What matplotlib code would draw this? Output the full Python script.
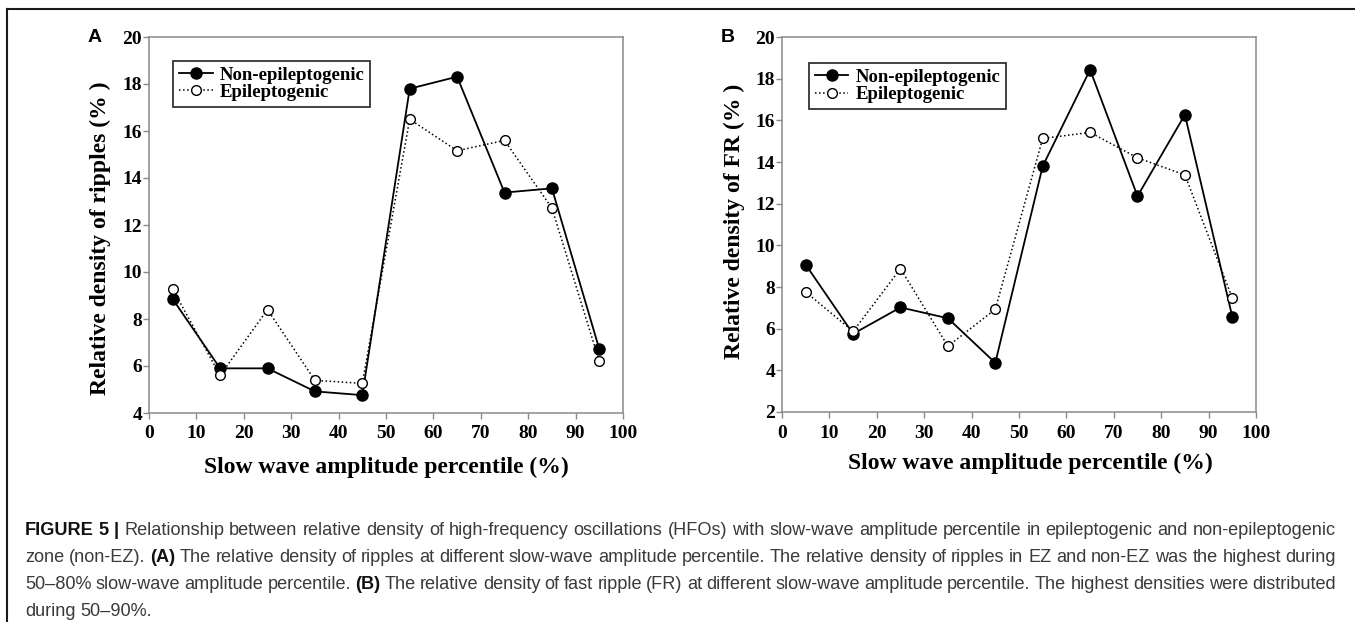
import matplotlib
matplotlib.use("Agg")
import matplotlib.pyplot as plt
from matplotlib.lines import Line2D

# ---------------- data ----------------
x_pct = [5, 15, 25, 35, 45, 55, 65, 75, 85, 95]
x_ticks = [0, 10, 20, 30, 40, 50, 60, 70, 80, 90, 100]

ripple_non_ez = [8.85, 5.9, 5.9, 4.92, 4.76, 17.8, 18.31, 13.38, 13.56, 6.72]
ripple_ez = [9.27, 5.6, 8.4, 5.39, 5.26, 16.5, 15.16, 15.6, 12.72, 6.2]

fr_non_ez = [9.07, 5.75, 7.02, 6.5, 4.36, 13.8, 18.43, 12.36, 16.27, 6.57]
fr_ez = [7.76, 5.87, 8.88, 5.16, 6.93, 15.13, 15.42, 14.2, 13.38, 7.47]

ripple_yticks = [4, 6, 8, 10, 12, 14, 16, 18, 20]
fr_yticks = [2, 4, 6, 8, 10, 12, 14, 16, 18, 20]

series_names = ["Non-epileptogenic", "Epileptogenic"]
xlabel_text = "Slow wave amplitude percentile (%)"
ylabel_a = "Relative density of ripples (% )"
ylabel_b = "Relative density of FR (% )"

caption_lines = [
    [("FIGURE 5 |", True), ("Relationship between relative density of high-frequency oscillations (HFOs) with slow-wave amplitude percentile in epileptogenic and non-epileptogenic", False)],
    [("zone (non-EZ).", False), ("(A)", True), ("The relative density of ripples at different slow-wave amplitude percentile. The relative density of ripples in EZ and non-EZ was the highest during", False)],
    [("50\u201380% slow-wave amplitude percentile.", False), ("(B)", True), ("The relative density of fast ripple (FR) at different slow-wave amplitude percentile. The highest densities were distributed", False)],
    [("during 50\u201390%.", False)],
]

# ---------------- figure ----------------
W, H = 1355, 622
fig = plt.figure(figsize=(W / 100, H / 100), dpi=100)
SERIF = ["Liberation Serif", "DejaVu Serif"]
SANS = ["Liberation Sans", "DejaVu Sans"]
SPINE = "#8a8a8a"


def px_rect(l, r, b, t):
    return [l / W, 1 - b / H, (r - l) / W, (b - t) / H]


def panel(rect, non_ez, ez, yticks, ylab, ylab_xy, xlab_xy, leg_xy, letter, letter_x):
    ax = fig.add_axes(rect)
    ax.plot(x_pct, non_ez, "-", color="black", lw=1.3, marker="o", ms=8,
            mfc="black", mec="black", label=series_names[0], zorder=3)
    ax.plot(x_pct, ez, ":", color="black", lw=1.1, marker="o", ms=7,
            mfc="white", mec="black", mew=1.0, label=series_names[1], zorder=4)
    ax.set_xlim(0, 100)
    ax.set_ylim(yticks[0], yticks[-1])
    ax.set_xticks(x_ticks)
    ax.set_yticks(yticks)
    for s in ax.spines.values():
        s.set_color(SPINE)
        s.set_linewidth(1.1)
    ax.tick_params(axis="both", direction="out", length=4, width=1.0, color=SPINE,
                   labelsize=14, labelcolor="black")
    ax.tick_params(axis="y", pad=1)
    ax.tick_params(axis="x", pad=5)
    for lab in ax.get_xticklabels() + ax.get_yticklabels():
        lab.set_family(SERIF)
        lab.set_fontweight("bold")
    ax.set_xlabel(xlabel_text, family=SERIF, fontweight="bold", fontsize=17)
    ax.xaxis.set_label_coords(*xlab_xy)
    ax.xaxis.label.set_va("center")
    ax.set_ylabel(ylab, family=SERIF, fontweight="bold", fontsize=17)
    ax.yaxis.set_label_coords(*ylab_xy)
    ax.yaxis.label.set_va("center")
    leg = ax.legend(loc="upper left", bbox_to_anchor=leg_xy, borderaxespad=0,
                    frameon=True, fancybox=False, handlelength=1.8, handletextpad=0.4,
                    borderpad=0.3, labelspacing=0.0,
                    prop={"family": SERIF, "weight": "bold", "size": 13.5})
    leg.get_frame().set_edgecolor("black")
    leg.get_frame().set_linewidth(1.3)
    fig.text(letter_x / W, 1 - 37 / H, letter, family=SANS, fontweight="bold",
             fontsize=14, ha="center", va="center")
    return ax


panel(px_rect(149, 623, 413, 37), ripple_non_ez, ripple_ez, ripple_yticks, ylabel_a,
      (-0.103, 0.465), (0.5, -0.146), (0.051, 0.936), "A", 95)
panel(px_rect(782, 1256, 412, 37), fr_non_ez, fr_ez, fr_yticks, ylabel_b,
      (-0.101, 0.509), (0.525, -0.136), (0.057, 0.930), "B", 728)

# frame lines of the figure panel
fig.add_artist(Line2D([7 / W, 1.0], [1 - 9 / H, 1 - 9 / H], color="#1a1a1a", lw=1.5,
                      transform=fig.transFigure))
fig.add_artist(Line2D([7 / W, 7 / W], [0.0, 1 - 9 / H], color="#1a1a1a", lw=1.5,
                      transform=fig.transFigure))

# ---------------- caption (justified) ----------------
renderer = fig.canvas.get_renderer()
CAP_L, CAP_R = 25, 1336
base_y = [535, 562, 589, 616]


def words_of(line):
    out = []
    for seg, bold in line:
        for w in seg.split(" "):
            if w:
                out.append((w, bold))
    return out


def measure(word, bold, size):
    t = fig.text(0, 0, word, family=SANS, fontweight="bold" if bold else "normal",
                 fontsize=size)
    w = t.get_window_extent(renderer).width
    t.remove()
    return w


def line_width(words, size):
    sp = 0.278 * size * 100 / 72
    return sum(measure(w, b, size) for w, b in words) + sp * (len(words) - 1)


w0 = line_width(words_of(caption_lines[0]), 10)
cap_size = 10 * (CAP_R - CAP_L) / w0
cap_color = "#3a3a3a"
for i, line in enumerate(caption_lines):
    words = words_of(line)
    widths = [measure(w, b, cap_size) for w, b in words]
    sp = 0.278 * cap_size * 100 / 72
    if i < len(caption_lines) - 1 and len(words) > 1:
        sp = (CAP_R - CAP_L - sum(widths)) / (len(words) - 1)
    x = CAP_L
    for (w, b), wd in zip(words, widths):
        fig.text(x / W, 1 - base_y[i] / H, w, family=SANS,
                 fontweight="bold" if b else "normal", fontsize=cap_size,
                 color="#111111" if b else cap_color, ha="left", va="baseline")
        x += wd + sp

fig.savefig("out.png", dpi=100)
